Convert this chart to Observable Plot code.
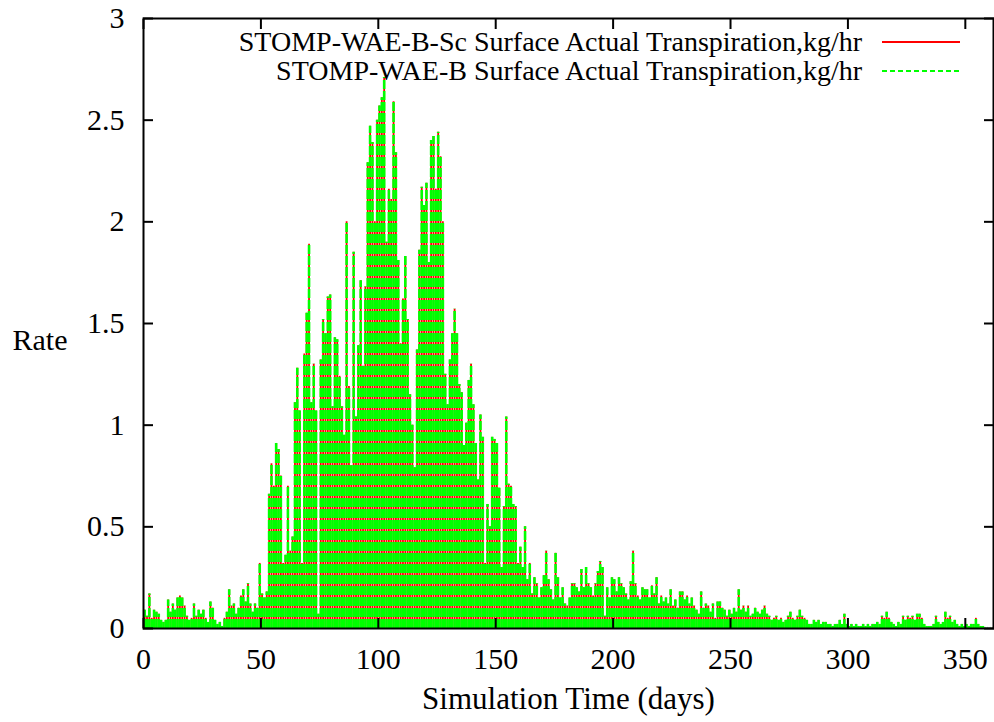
<!DOCTYPE html>
<html><head><meta charset="utf-8">
<script src="https://cdn.jsdelivr.net/npm/d3@7"></script>
<script src="https://cdn.jsdelivr.net/npm/@observablehq/plot@0.6"></script>
<style>body{margin:0;background:#fff}</style>
</head><body><div id="chart"></div>
<script>
const seriesNames = [
  "STOMP-WAE-B-Sc Surface Actual Transpiration,kg/hr",
  "STOMP-WAE-B Surface Actual Transpiration,kg/hr"
];
const seriesColors = ["#ff0000", "#00ff00"];
const xTicks = [0, 50, 100, 150, 200, 250, 300, 350];
const yTicks = [0, 0.5, 1, 1.5, 2, 2.5, 3];
const xLabel = "Simulation Time (days)";
const yLabel = "Rate";

// daily peak transpiration rate (kg/hr), day 0 .. 361
const peaksB = [
  0.09, 0.06, 0.17, 0.05, 0.09, 0.08, 0.07, 0.04, 0.03, 0.04,
  0.14, 0.08, 0.12, 0.09, 0.15, 0.16, 0.15, 0.11, 0.06, 0.04,
  0.05, 0.12, 0.06, 0.09, 0.07, 0.09, 0.05, 0.03, 0.13, 0.10,
  0.04, 0.02, 0.03, 0.01, 0.05, 0.08, 0.19, 0.11, 0.12, 0.07,
  0.10, 0.16, 0.19, 0.13, 0.22, 0.12, 0.08, 0.12, 0.10, 0.32,
  0.17, 0.15, 0.18, 0.66, 0.81, 0.70, 0.91, 0.88, 0.75, 0.32,
  0.36, 0.70, 0.38, 0.45, 1.11, 1.28, 1.07, 0.32, 1.35, 1.55,
  1.89, 1.11, 1.30, 1.07, 0.07, 1.32, 1.52, 1.45, 1.63, 1.64,
  1.09, 1.43, 1.42, 1.24, 1.09, 0.95, 2.00, 1.19, 0.80, 1.85,
  1.04, 1.39, 1.71, 1.29, 1.68, 2.29, 2.47, 2.39, 2.00, 2.50,
  2.57, 2.61, 2.71, 1.90, 2.16, 2.11, 2.59, 2.34, 1.81, 1.40,
  1.62, 1.83, 1.52, 1.15, 1.00, 0.79, 1.37, 1.86, 2.17, 2.08,
  2.19, 1.80, 2.40, 2.42, 2.16, 2.44, 2.32, 2.00, 1.25, 1.10,
  1.32, 1.45, 1.57, 1.45, 1.20, 1.16, 0.90, 1.01, 1.22, 1.30,
  1.10, 0.91, 0.73, 1.05, 0.94, 0.32, 0.61, 0.50, 0.94, 0.93,
  0.91, 0.69, 0.30, 0.60, 1.04, 0.71, 0.70, 0.61, 0.60, 0.32,
  0.40, 0.30, 0.50, 0.24, 0.32, 0.17, 0.25, 0.22, 0.15, 0.20,
  0.26, 0.38, 0.24, 0.19, 0.14, 0.37, 0.25, 0.15, 0.20, 0.12,
  0.11, 0.15, 0.22, 0.22, 0.20, 0.18, 0.29, 0.20, 0.30, 0.22,
  0.20, 0.16, 0.22, 0.28, 0.33, 0.30, 0.06, 0.20, 0.15, 0.25,
  0.24, 0.18, 0.25, 0.22, 0.20, 0.17, 0.14, 0.23, 0.38, 0.22,
  0.16, 0.14, 0.20, 0.19, 0.19, 0.15, 0.21, 0.17, 0.25, 0.12,
  0.16, 0.13, 0.15, 0.12, 0.19, 0.11, 0.14, 0.10, 0.18, 0.18,
  0.14, 0.16, 0.12, 0.15, 0.11, 0.09, 0.07, 0.18, 0.10, 0.12,
  0.11, 0.08, 0.12, 0.05, 0.13, 0.13, 0.10, 0.09, 0.06, 0.09,
  0.07, 0.10, 0.08, 0.19, 0.09, 0.11, 0.08, 0.11, 0.06, 0.07,
  0.10, 0.08, 0.07, 0.09, 0.11, 0.07, 0.06, 0.04, 0.05, 0.06,
  0.04, 0.05, 0.03, 0.04, 0.06, 0.08, 0.05, 0.04, 0.06, 0.09,
  0.06, 0.05, 0.04, 0.02, 0.02, 0.04, 0.03, 0.04, 0.02, 0.03,
  0.03, 0.02, 0.02, 0.01, 0.02, 0.02, 0.04, 0.02, 0.07, 0.02,
  0.01, 0.02, 0.01, 0.02, 0.01, 0.01, 0.02, 0.01, 0.02, 0.01,
  0.02, 0.02, 0.03, 0.02, 0.06, 0.05, 0.08, 0.05, 0.03, 0.02,
  0.01, 0.03, 0.02, 0.06, 0.04, 0.06, 0.05, 0.06, 0.04, 0.07,
  0.07, 0.05, 0.02, 0.01, 0.01, 0.01, 0.02, 0.06, 0.03, 0.02,
  0.03, 0.08, 0.05, 0.06, 0.03, 0.04, 0.02, 0.01, 0.02, 0.01,
  0.02, 0.01, 0.02, 0.02, 0.05, 0.02, 0.01, 0.01, 0.00, 0.00,
  0.00, 0.00
];
// the two runs coincide at this resolution
const peaksSc = peaksB;

const rows = peaksB.map((v, i) => ({day: i + 0.5, b: v, sc: peaksSc[i]}));

const FONT = "'Liberation Serif', 'Times New Roman', serif";
const FS = 30;
const LEGEND_FS = 28;

const chart = Plot.plot({
  width: 994, height: 722,
  marginLeft: 143, marginRight: 1, marginTop: 18, marginBottom: 94,
  style: {fontFamily: FONT, fontSize: FS + "px", background: "white", color: "black"},
  x: {domain: [0, 362]},
  y: {domain: [0, 3]},
  marks: [
    Plot.ruleX(rows, {x: "day", y1: 0, y2: "sc", stroke: seriesColors[0], strokeWidth: 1.8}),
    Plot.ruleX(rows, {x: "day", y1: 0, y2: "b", stroke: seriesColors[1], strokeWidth: 2.6, strokeDasharray: "9,2"}),
    Plot.frame({stroke: "black", strokeWidth: 2}),
    Plot.axisX({ticks: xTicks, tickSize: 0, tickPadding: 19, label: null, fontSize: FS}),
    Plot.axisX({anchor: "bottom", ticks: xTicks, tickSize: -10, fill: "none", label: null, strokeWidth: 2}),
    Plot.axisX({anchor: "top", ticks: xTicks, tickSize: -10, fill: "none", label: null, strokeWidth: 2}),
    Plot.axisY({ticks: yTicks, tickSize: 0, tickPadding: 19, tickFormat: d => String(d), label: null, fontSize: FS}),
    Plot.axisY({anchor: "left", ticks: yTicks, tickSize: -10, fill: "none", label: null, strokeWidth: 2}),
    Plot.axisY({anchor: "right", ticks: yTicks, tickSize: -10, fill: "none", label: null, strokeWidth: 2}),
    Plot.text([xLabel], {text: d => d, frameAnchor: "bottom", dy: 80, lineAnchor: "bottom", fontSize: 31}),
    Plot.text([yLabel], {text: d => d, frameAnchor: "left", dx: -131, dy: 17, textAnchor: "start", fontSize: FS})
  ]
});

const svg = d3.select(chart);
const leg = svg.append("g").attr("font-family", FONT).attr("font-size", LEGEND_FS).attr("fill", "black");
seriesNames.forEach((name, i) => {
  const y = 42 + i * 29;
  leg.append("text").attr("x", 862).attr("y", y).attr("dy", "0.32em").attr("text-anchor", "end").text(name);
  leg.append("line").attr("x1", 882).attr("x2", 960).attr("y1", y).attr("y2", y)
    .attr("stroke", seriesColors[i]).attr("stroke-width", 2)
    .attr("stroke-dasharray", i ? "5,3" : null);
});
document.getElementById("chart").appendChild(chart);
</script>
</body></html>
